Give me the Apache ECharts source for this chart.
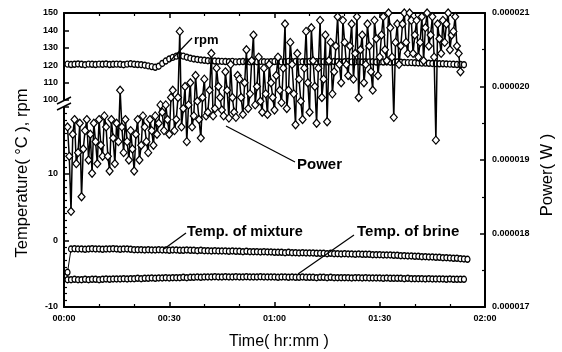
<!DOCTYPE html>
<html>
<head>
<meta charset="utf-8">
<script src="https://cdn.jsdelivr.net/npm/echarts@6/dist/echarts.min.js"></script>
<style>html,body{margin:0;padding:0;background:#fff}#c{width:562px;height:352px}</style>
</head>
<body>
<div id="c"></div>
<script>
// ---- Data (time in minutes from 00:00) ----
const xTicks = ['00:00', '00:30', '01:00', '01:30', '02:00'];
const tempTicksUpper = [100, 110, 120, 130, 140, 150];
const tempTicksLower = [-10, 0, 10];
const powerTicks = ['0.000017', '0.000018', '0.000019', '0.000020', '0.000021'];

const startMinute = 1;

// Power (W), samples on the whole minute from 00:01
const power = [
  19.45e-6, 18.30e-6, 19.55e-6, 19.10e-6, 18.50e-6, 19.40e-6, 19.00e-6, 18.82e-6, 19.25e-6, 19.55e-6,
  19.05e-6, 19.45e-6, 18.85e-6, 19.30e-6, 19.50e-6, 19.95e-6, 19.10e-6, 19.25e-6, 19.40e-6, 18.85e-6,
  19.55e-6, 19.20e-6, 19.45e-6, 19.10e-6, 19.40e-6, 19.60e-6, 19.50e-6, 19.65e-6, 19.75e-6, 19.35e-6,
  19.95e-6, 19.55e-6, 20.75e-6, 19.70e-6, 19.25e-6, 20.05e-6, 19.60e-6, 19.80e-6, 19.30e-6, 20.10e-6,
  19.65e-6, 20.45e-6, 19.70e-6, 20.00e-6, 19.68e-6, 20.20e-6, 19.57e-6, 19.85e-6, 19.58e-6, 20.10e-6,
  19.62e-6, 20.50e-6, 19.90e-6, 20.70e-6, 20.00e-6, 19.80e-6, 20.25e-6, 19.62e-6, 20.05e-6, 19.68e-6,
  20.40e-6, 19.78e-6, 20.85e-6, 19.95e-6, 20.30e-6, 19.48e-6, 20.10e-6, 19.55e-6, 20.75e-6, 19.65e-6,
  20.35e-6, 19.50e-6, 20.90e-6, 20.10e-6, 19.52e-6, 20.60e-6, 20.20e-6, 20.95e-6, 20.05e-6, 20.60e-6,
  20.15e-6, 20.85e-6, 20.45e-6, 19.85e-6, 20.70e-6, 20.30e-6, 20.55e-6, 19.95e-6, 20.65e-6, 20.40e-6,
  20.95e-6, 20.35e-6, 20.80e-6, 19.58e-6, 20.85e-6, 20.55e-6, 21.00e-6, 20.45e-6, 20.90e-6, 20.70e-6,
  20.40e-6, 20.95e-6, 20.80e-6, 20.55e-6, 20.95e-6, 19.27e-6, 20.65e-6, 20.90e-6, 20.85e-6, 20.50e-6,
  20.75e-6, 20.55e-6, 20.20e-6
];

// Power (W), samples on the half minute from 00:01:30
const powerHalf = [
  19.05e-6, 19.35e-6, 18.95e-6, 19.50e-6, 19.15e-6, 19.55e-6, 19.35e-6, 19.50e-6, 18.95e-6, 19.20e-6,
  19.60e-6, 19.05e-6, 19.55e-6, 18.95e-6, 19.25e-6, 19.45e-6, 19.55e-6, 19.00e-6, 19.15e-6, 19.35e-6,
  19.00e-6, 19.60e-6, 19.25e-6, 19.55e-6, 19.20e-6, 19.35e-6, 19.75e-6, 19.40e-6, 19.55e-6, 19.85e-6,
  19.40e-6, 19.85e-6, 19.45e-6, 20.00e-6, 19.75e-6, 19.45e-6, 20.15e-6, 19.55e-6, 19.85e-6, 19.60e-6,
  19.95e-6, 19.60e-6, 20.25e-6, 19.85e-6, 19.60e-6, 19.95e-6, 20.30e-6, 19.65e-6, 20.15e-6, 19.85e-6,
  20.05e-6, 19.70e-6, 20.35e-6, 19.75e-6, 20.40e-6, 19.65e-6, 19.90e-6, 20.30e-6, 19.85e-6, 20.15e-6,
  19.95e-6, 20.25e-6, 19.70e-6, 20.60e-6, 19.90e-6, 20.45e-6, 19.80e-6, 20.25e-6, 20.05e-6, 20.80e-6,
  20.00e-6, 20.25e-6, 19.85e-6, 20.70e-6, 20.35e-6, 19.90e-6, 20.55e-6, 20.30e-6, 20.90e-6, 20.30e-6,
  20.55e-6, 20.10e-6, 20.95e-6, 20.50e-6, 20.05e-6, 20.85e-6, 20.20e-6, 20.90e-6, 20.15e-6, 20.70e-6,
  20.50e-6, 21.00e-6, 20.40e-6, 20.60e-6, 20.30e-6, 20.85e-6, 20.60e-6, 21.00e-6, 20.45e-6, 20.90e-6,
  20.60e-6, 20.35e-6, 21.00e-6, 20.70e-6, 20.40e-6, 20.85e-6, 20.45e-6, 20.60e-6, 21.00e-6, 20.70e-6,
  20.95e-6, 20.45e-6
];

// rpm, one sample per minute from 00:01
const rpm = [
  120.6, 120.4, 120.5, 120.7, 120.5, 120.3, 120.6, 120.5, 120.4, 120.6,
  120.5, 120.7, 120.4, 120.5, 120.6, 120.5, 120.3, 120.6, 120.8, 120.5,
  120.4, 120.3, 120.0, 119.6, 119.2, 118.8, 119.4, 121.0, 122.4, 123.6,
  124.5, 125.2, 125.6, 125.2, 124.6, 124.0, 123.6, 123.3, 123.0, 122.8,
  122.6, 122.5, 122.4, 122.3, 122.2, 122.1, 122.0, 122.2, 121.9, 122.0,
  122.1, 122.0, 121.9, 122.1, 122.0, 122.2, 122.0, 121.9, 122.0, 122.1,
  122.0, 121.9, 122.0, 122.2, 122.0, 122.1, 121.9, 122.0, 122.0, 122.1,
  121.9, 122.0, 122.2, 122.0, 121.9, 122.0, 122.1, 122.0, 121.8, 122.0,
  122.1, 121.9, 122.0, 122.0, 121.8, 122.0, 121.9, 122.0, 121.8, 121.9,
  121.8, 121.9, 121.7, 121.8, 121.8, 121.7, 121.6, 121.5, 121.5, 121.4,
  121.3, 121.2, 121.2, 121.1, 121.0, 120.9, 120.8, 120.8, 120.7, 120.6,
  120.5, 120.4, 120.4, 120.3
];

// Temp. of mixture (°C), one sample per minute from 00:01
const tempMixture = [
  -4.8, -1.3, -1.25, -1.3, -1.3, -1.35, -1.3, -1.25, -1.3, -1.3,
  -1.35, -1.3, -1.3, -1.25, -1.3, -1.35, -1.3, -1.3, -1.35, -1.4,
  -1.4, -1.4, -1.45, -1.4, -1.45, -1.45, -1.4, -1.45, -1.45, -1.5,
  -1.45, -1.45, -1.5, -1.5, -1.45, -1.5, -1.5, -1.55, -1.5, -1.55,
  -1.55, -1.6, -1.55, -1.6, -1.6, -1.6, -1.65, -1.6, -1.65, -1.65,
  -1.7, -1.65, -1.7, -1.7, -1.7, -1.75, -1.7, -1.75, -1.75, -1.8,
  -1.8, -1.8, -1.85, -1.8, -1.85, -1.85, -1.9, -1.85, -1.9, -1.9,
  -1.9, -1.95, -1.95, -1.95, -2.0, -1.95, -2.0, -2.0, -2.05, -2.0,
  -2.05, -2.05, -2.1, -2.05, -2.1, -2.1, -2.1, -2.15, -2.15, -2.15,
  -2.2, -2.2, -2.2, -2.25, -2.25, -2.3, -2.3, -2.35, -2.35, -2.4,
  -2.4, -2.45, -2.45, -2.5, -2.5, -2.55, -2.55, -2.6, -2.6, -2.65,
  -2.7, -2.7, -2.75, -2.8, -2.85
];

// Temp. of brine (°C), one sample per minute from 00:01
const tempBrine = [
  -5.9, -5.9, -5.85, -5.9, -5.9, -5.85, -5.9, -5.85, -5.85, -5.9,
  -5.85, -5.8, -5.85, -5.8, -5.8, -5.8, -5.75, -5.8, -5.75, -5.75,
  -5.7, -5.75, -5.7, -5.7, -5.65, -5.7, -5.65, -5.65, -5.6, -5.65,
  -5.6, -5.6, -5.6, -5.55, -5.6, -5.55, -5.55, -5.5, -5.55, -5.5,
  -5.5, -5.5, -5.45, -5.5, -5.5, -5.45, -5.5, -5.5, -5.45, -5.5,
  -5.5, -5.45, -5.5, -5.5, -5.5, -5.45, -5.5, -5.5, -5.5, -5.5,
  -5.55, -5.5, -5.5, -5.55, -5.5, -5.55, -5.55, -5.5, -5.55, -5.55,
  -5.55, -5.6, -5.55, -5.55, -5.6, -5.55, -5.6, -5.6, -5.6, -5.6,
  -5.6, -5.65, -5.6, -5.6, -5.65, -5.6, -5.65, -5.65, -5.65, -5.65,
  -5.7, -5.65, -5.7, -5.7, -5.7, -5.7, -5.75, -5.7, -5.75, -5.75,
  -5.75, -5.75, -5.8, -5.75, -5.8, -5.8, -5.8, -5.8, -5.85, -5.8,
  -5.85, -5.85, -5.85, -5.85
];

// ---- Build chart ----
const pairs = arr => arr.map((v, i) => [startMinute + i, v]);
const powerPairs = [];
power.forEach((v, i) => {
  powerPairs.push([startMinute + i, v]);
  if (i < powerHalf.length) powerPairs.push([startMinute + i + 0.5, powerHalf[i]]);
});
const FONT = 'Liberation Sans, Arial, sans-serif';
const lbl = { color: '#000', fontSize: 9, fontWeight: 'bold', fontFamily: FONT };
const axLine = { show: true, onZero: false, lineStyle: { color: '#000', width: 2 } };
const tick = { show: true, inside: true, length: 5, lineStyle: { color: '#000', width: 1.5 } };
const minor = n => ({ show: true, splitNumber: n, length: 3, lineStyle: { color: '#000', width: 1.2 } });

const L = 64, R = 562 - 485, T = 13, B = 352 - 307;
const chainStyle = {
  symbol: 'circle', symbolSize: [5, 6], z: 2,
  itemStyle: { color: '#fff', borderColor: '#000', borderWidth: 1.3 },
  lineStyle: { color: '#000', width: 1 }
};

const chart = echarts.init(document.getElementById('c'), null, { renderer: 'canvas' });
chart.setOption({
  backgroundColor: '#fff',
  animation: false,
  grid: [
    { left: L, right: R, top: T, bottom: B },
    { left: L, right: R, top: T, height: 87 },
    { left: L, right: R, top: 107, bottom: B }
  ],
  xAxis: [
    { gridIndex: 0, type: 'value', min: 0, max: 120, interval: 30, position: 'bottom',
      axisLine: axLine, axisTick: tick, minorTick: minor(3), splitLine: { show: false },
      axisLabel: Object.assign({ margin: 7, formatter: v => xTicks[v / 30] }, lbl) },
    { gridIndex: 0, type: 'value', min: 0, max: 120, interval: 30, position: 'top',
      axisLine: axLine, axisTick: tick, minorTick: minor(3), splitLine: { show: false },
      axisLabel: { show: false } },
    { gridIndex: 1, type: 'value', min: 0, max: 120, show: false },
    { gridIndex: 2, type: 'value', min: 0, max: 120, show: false }
  ],
  yAxis: [
    { gridIndex: 0, type: 'value', position: 'right', min: 17e-6, max: 21e-6, interval: 1e-6,
      axisLine: axLine, axisTick: tick, minorTick: minor(2), splitLine: { show: false },
      axisLabel: Object.assign({ margin: 7, formatter: v => powerTicks[Math.round((v - 17e-6) / 1e-6)] }, lbl) },
    { gridIndex: 1, type: 'value', position: 'left', min: 100, max: 150, interval: 10,
      axisLine: axLine, axisTick: tick, splitLine: { show: false },
      axisLabel: Object.assign({ margin: 6, formatter: v => tempTicksUpper.includes(v) ? String(v) : '' }, lbl) },
    { gridIndex: 2, type: 'value', position: 'left', min: -10, max: 20, interval: 10,
      axisLine: axLine, axisTick: tick, minorTick: minor(10), splitLine: { show: false },
      axisLabel: Object.assign({ margin: 6, formatter: v => tempTicksLower.includes(v) ? String(v) : '' }, lbl) }
  ],
  series: [
    Object.assign({ name: 'rpm', type: 'line', xAxisIndex: 2, yAxisIndex: 1, data: pairs(rpm), clip: true }, chainStyle),
    Object.assign({ name: 'Temp. of mixture', type: 'line', xAxisIndex: 3, yAxisIndex: 2, data: pairs(tempMixture), clip: true }, chainStyle),
    Object.assign({ name: 'Temp. of brine', type: 'line', xAxisIndex: 3, yAxisIndex: 2, data: pairs(tempBrine), clip: true }, chainStyle),
    { name: 'Power', type: 'line', xAxisIndex: 0, yAxisIndex: 0, data: powerPairs, clip: true,
      symbol: 'diamond', symbolSize: [7, 8], z: 3,
      itemStyle: { color: '#fff', borderColor: '#000', borderWidth: 1.2 },
      lineStyle: { color: '#000', width: 1.5 } }
  ],
  graphic: [
    // axis break marks
    { type: 'line', shape: { x1: 57, y1: 104, x2: 71, y2: 97 }, style: { stroke: '#000', lineWidth: 1.5 }, z: 10 },
    { type: 'line', shape: { x1: 57, y1: 110, x2: 71, y2: 103 }, style: { stroke: '#000', lineWidth: 1.5 }, z: 10 },
    // annotations
    { type: 'line', shape: { x1: 170, y1: 61, x2: 192, y2: 38 }, style: { stroke: '#000', lineWidth: 1.2 }, z: 10 },
    { type: 'text', left: 194, top: 34, z: 10, style: { text: 'rpm', fontSize: 13, fontWeight: 'bold', fontFamily: FONT, fill: '#000' } },
    { type: 'line', shape: { x1: 226, y1: 126, x2: 295, y2: 162 }, style: { stroke: '#000', lineWidth: 1.2 }, z: 10 },
    { type: 'text', left: 297, top: 157, z: 10, style: { text: 'Power', fontSize: 15, fontWeight: 'bold', fontFamily: FONT, fill: '#000' } },
    { type: 'line', shape: { x1: 186, y1: 233, x2: 164, y2: 249 }, style: { stroke: '#000', lineWidth: 1.2 }, z: 10 },
    { type: 'text', left: 187, top: 224, z: 10, style: { text: 'Temp. of mixture', fontSize: 14.5, fontWeight: 'bold', fontFamily: FONT, fill: '#000' } },
    { type: 'line', shape: { x1: 354, y1: 235, x2: 298, y2: 274 }, style: { stroke: '#000', lineWidth: 1.2 }, z: 10 },
    { type: 'text', left: 357, top: 224, z: 10, style: { text: 'Temp. of brine', fontSize: 15, fontWeight: 'bold', fontFamily: FONT, fill: '#000' } },
    // axis titles
    { type: 'text', x: 22, y: 173, rotation: Math.PI / 2, z: 10,
      style: { text: 'Temperature( °C ), rpm', fontSize: 16.5, fontFamily: FONT, fill: '#000', textAlign: 'center', textVerticalAlign: 'middle' } },
    { type: 'text', x: 547, y: 175, rotation: Math.PI / 2, z: 10,
      style: { text: 'Power( W )', fontSize: 16.5, fontFamily: FONT, fill: '#000', textAlign: 'center', textVerticalAlign: 'middle' } },
    { type: 'text', x: 279, y: 342, z: 10,
      style: { text: 'Time( hr:mm )', fontSize: 16, fontFamily: FONT, fill: '#000', textAlign: 'center', textVerticalAlign: 'middle' } }
  ]
});
</script>
</body>
</html>
